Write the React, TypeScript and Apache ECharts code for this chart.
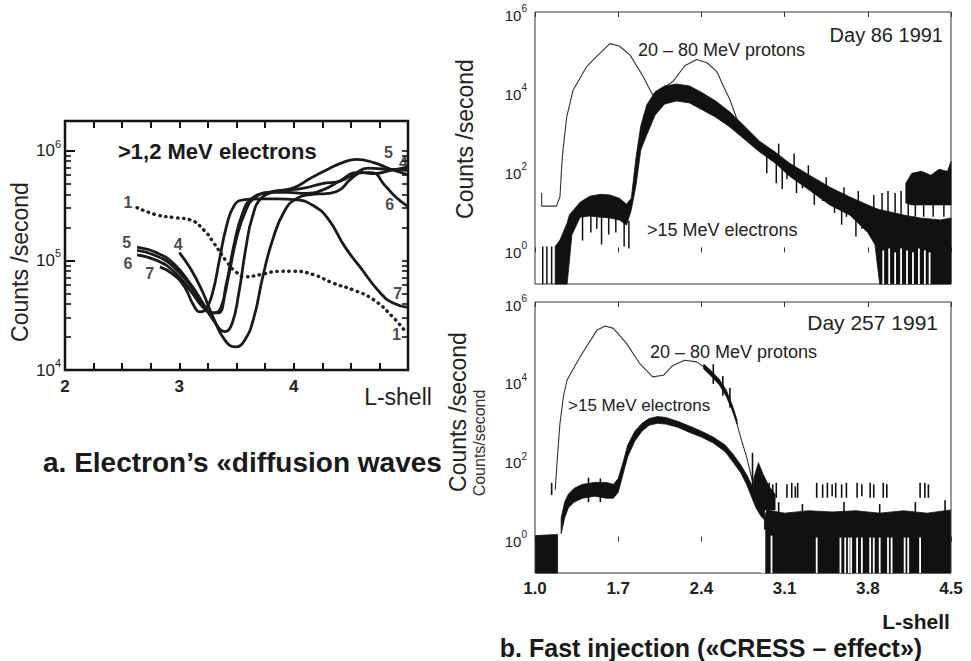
import React, { useEffect, useRef } from "react";
import * as echarts from "echarts";

const FF = '"Liberation Sans", Arial, Helvetica, sans-serif';

// ---------- Panel a: >1,2 MeV electrons (L-shell vs log10 counts/s) ----------
const curve1 = [[2.63,5.48],[2.80,5.415],[2.95,5.39],[3.09,5.37],[3.22,5.27],[3.30,5.16],[3.42,4.98],[3.50,4.89],[3.58,4.85],[3.71,4.87],[3.88,4.90],[4.00,4.90],[4.17,4.87],[4.35,4.79],[4.52,4.73],[4.70,4.64],[4.87,4.48],[4.97,4.36]];
const curve3 = [[2.63,5.09],[2.8,5.04],[2.95,4.94],[3.1,4.76],[3.2,4.6],[3.28,4.52],[3.34,4.52],[3.41,4.78],[3.48,5.15],[3.55,5.42],[3.63,5.56],[3.78,5.62],[3.95,5.64],[4.1,5.66],[4.25,5.7],[4.4,5.72],[4.52,5.78],[4.65,5.84],[4.8,5.83],[5.0,5.82]];
const curve4 = [[3.0,5.07],[3.1,4.92],[3.2,4.72],[3.3,4.47],[3.4,4.27],[3.49,4.21],[3.57,4.27],[3.65,4.47],[3.73,4.85],[3.82,5.2],[3.92,5.45],[4.02,5.56],[4.15,5.6],[4.3,5.61],[4.4,5.64],[4.5,5.74],[4.6,5.8],[4.7,5.79],[4.85,5.82],[5.0,5.85]];
const curve5 = [[2.63,5.12],[2.8,5.07],[2.95,4.97],[3.1,4.78],[3.2,4.62],[3.3,4.45],[3.4,4.35],[3.46,4.42],[3.52,4.7],[3.58,5.1],[3.64,5.4],[3.72,5.57],[3.85,5.63],[4.0,5.66],[4.15,5.75],[4.3,5.83],[4.45,5.9],[4.55,5.92],[4.7,5.89],[4.85,5.83],[5.0,5.78]];
const curve6 = [[2.63,5.05],[2.8,5.0],[2.95,4.9],[3.1,4.72],[3.2,4.58],[3.3,4.52],[3.36,4.56],[3.43,4.85],[3.5,5.2],[3.58,5.45],[3.66,5.57],[3.8,5.62],[3.95,5.62],[4.1,5.61],[4.25,5.64],[4.4,5.72],[4.55,5.8],[4.68,5.8],[4.8,5.68],[4.9,5.57],[5.0,5.49]];
const curve7 = [[2.83,4.94],[2.95,4.87],[3.05,4.75],[3.12,4.6],[3.18,4.53],[3.23,4.55],[3.29,4.7],[3.35,5.0],[3.41,5.3],[3.48,5.5],[3.56,5.55],[3.7,5.56],[3.85,5.56],[4.03,5.55],[4.17,5.5],[4.3,5.38],[4.45,5.12],[4.58,4.94],[4.76,4.70],[4.87,4.61],[5.0,4.57]];
const curveLabels = [
  { name: "1", value: [2.55, 5.53] }, { name: "5", value: [2.54, 5.16] },
  { name: "6", value: [2.55, 4.97] }, { name: "7", value: [2.74, 4.88] },
  { name: "4", value: [2.99, 5.14] }, { name: "5", value: [4.83, 5.98] },
  { name: "4", value: [4.96, 5.89] }, { name: "6", value: [4.84, 5.51] },
  { name: "7", value: [4.91, 4.70] }, { name: "1", value: [4.90, 4.32] },
];
const aXLabels = [2, 3, 4];
const aYLabels = [4, 5, 6];

// ---------- Panel b top: Day 86 1991 ----------
const protonTop = [[1.056,1.51],[1.056,1.17],[1.18,1.17],[1.21,1.4],[1.225,2.2],[1.235,2.58],[1.267,3.43],[1.32,4.10],[1.435,4.70],[1.53,4.99],[1.63,5.28],[1.71,5.22],[1.80,4.99],[1.91,4.45],[1.99,3.98],[2.08,4.16],[2.16,4.32],[2.26,4.72],[2.36,4.88],[2.45,4.79],[2.53,4.57],[2.58,4.24],[2.64,3.86],[2.70,3.36],[2.78,2.98],[2.87,2.73],[3.0,2.5]];
const elecTopMain = [[1.17,-0.8,0.15],[1.21,-0.8,0.31],[1.27,-0.8,0.74],[1.29,-0.2,0.95],[1.31,0.44,1.02],[1.38,0.89,1.27],[1.46,0.92,1.42],[1.55,0.89,1.47],[1.63,0.87,1.45],[1.71,0.82,1.37],[1.77,0.69,1.22],[1.81,1.07,1.37],[1.85,1.70,2.4],[1.89,2.59,3.2],[1.94,2.97,3.73],[2.01,3.47,4.06],[2.09,3.75,4.21],[2.19,3.83,4.26],[2.30,3.78,4.21],[2.41,3.60,4.03],[2.52,3.42,3.83],[2.64,3.17,3.55],[2.77,2.84,3.17],[2.89,2.54,2.81],[3.02,2.26,2.54],[3.14,1.93,2.26],[3.31,1.57,1.95],[3.48,1.20,1.65],[3.65,0.94,1.40],[3.80,0.5,1.2],[3.86,0.2,1.12],[3.90,-0.8,1.08],[3.99,-0.8,1.02],[4.11,-0.8,0.94],[4.24,-0.8,0.87],[4.41,-0.8,0.82],[4.50,-0.8,0.87]];
const elecTopBlock = [[4.12,1.25,1.75],[4.17,1.2,2.0],[4.25,1.2,2.05],[4.33,1.2,1.95],[4.4,1.2,2.1],[4.47,1.2,2.05],[4.5,1.2,2.3]];
const spikesTop = [[1.065,-0.8,0.15],[1.10,-0.8,0.15],[1.14,-0.8,0.15],[1.40,0.3,1.0],[1.47,0.5,1.0],[1.52,0.6,1.0],[1.56,0.2,0.9],[1.62,0.45,0.9],[1.68,0.5,0.9],[1.75,0.15,0.8],[1.79,0.1,0.8],[2.95,2.0,2.5],[3.03,1.75,2.3],[3.08,1.6,2.2],[3.12,1.85,2.2],[3.2,1.5,2.0],[3.25,1.62,2.0],[3.35,1.2,1.7],[3.42,1.3,1.6],[3.52,1.0,1.4],[3.58,0.7,1.2],[3.62,0.9,1.3],[3.7,0.4,1.0],[3.75,0.6,1.0],[3.05,2.4,2.75],[3.18,2.1,2.5],[3.3,1.85,2.2],[3.45,1.55,1.9],[3.6,1.3,1.65],[3.72,1.15,1.55],[3.85,1.1,1.45],[3.92,1.0,1.5],[3.97,1.0,1.55],[4.03,1.0,1.5],[4.08,0.9,1.55],[4.14,0.9,1.5],[4.2,0.9,1.3],[4.27,0.9,1.25],[4.35,0.9,1.3],[4.44,0.9,1.35]];
const gapsTop = [[3.93,-0.8,0.05],[3.98,-0.8,0.1],[4.03,-0.8,0.0],[4.08,-0.8,0.1],[4.13,-0.8,0.05],[4.18,-0.8,0.0],[4.23,-0.8,0.1],[4.28,-0.8,0.05],[4.32,-0.8,0.0]];

// ---------- Panel b bottom: Day 257 1991 ----------
const protonBot = [[1.17,1.31],[1.19,2.2],[1.21,3.0],[1.24,3.7],[1.27,4.10],[1.38,4.69],[1.52,5.36],[1.59,5.47],[1.66,5.41],[1.77,5.03],[1.88,4.52],[1.99,4.18],[2.08,4.22],[2.16,4.47],[2.26,4.60],[2.36,4.56],[2.44,4.39],[2.53,4.10],[2.61,3.76],[2.67,3.34],[2.72,2.75],[2.78,2.15],[2.82,1.65],[2.85,1.31],[2.88,1.0]];
const elecBotBlock = [[1.005,-0.8,0.15],[1.19,-0.8,0.18]];
const elecBotMain = [[1.22,0.2,0.6],[1.25,0.6,1.0],[1.28,0.85,1.2],[1.33,1.0,1.35],[1.40,1.1,1.45],[1.50,1.15,1.5],[1.60,1.1,1.5],[1.66,1.1,1.45],[1.70,1.25,1.6],[1.74,1.7,2.0],[1.78,2.15,2.45],[1.84,2.55,2.8],[1.90,2.8,3.0],[1.96,2.95,3.12],[2.03,3.0,3.17],[2.10,2.98,3.15],[2.20,2.9,3.05],[2.30,2.77,2.93],[2.40,2.65,2.8],[2.50,2.5,2.65],[2.60,2.28,2.45],[2.67,2.0,2.2],[2.73,1.75,1.95],[2.78,1.45,1.7],[2.82,1.15,1.45],[2.86,0.85,1.2],[2.90,0.65,1.0],[2.93,0.55,0.85]];
const protonBotNoise = [[2.42,4.38,4.5],[2.48,4.2,4.34],[2.55,3.98,4.12],[2.61,3.68,3.84],[2.66,3.32,3.46],[2.70,2.98,3.08]];
const elecBotMid = [[2.84,1.0,1.6],[2.88,0.9,2.0],[2.92,0.8,1.7],[2.97,0.8,1.4],[3.02,0.8,1.2]];
const elecBotFloor = [[2.93,-0.8,0.6],[2.95,-0.8,0.8],[3.1,-0.8,0.72],[3.3,-0.8,0.78],[3.5,-0.8,0.75],[3.7,-0.8,0.78],[3.9,-0.8,0.72],[4.1,-0.8,0.78],[4.3,-0.8,0.72],[4.495,-0.8,0.8]];
const spikesBot = [[1.14,1.18,1.49],[2.83,1.2,2.25],[2.97,1.11,1.49],[3.0,1.11,1.45],[3.03,1.11,1.49],[3.12,1.11,1.45],[3.16,1.11,1.49],[3.19,1.11,1.4],[3.21,1.11,1.49],[3.37,1.11,1.49],[3.42,1.11,1.45],[3.46,1.11,1.49],[3.5,1.15,1.45],[3.53,1.11,1.49],[3.58,1.11,1.45],[3.62,1.11,1.49],[3.71,1.11,1.49],[3.75,1.15,1.45],[3.82,1.11,1.49],[3.85,1.11,1.45],[3.93,1.11,1.49],[3.96,1.11,1.45],[4.24,1.11,1.49],[4.28,1.11,1.49],[4.31,1.11,1.45],[3.05,0.7,1.0],[3.25,0.7,0.95],[3.6,0.7,1.0],[3.9,0.7,0.95],[4.2,0.7,1.0],[4.45,0.7,1.05],[1.45,1.0,1.62],[1.55,1.0,1.6],[2.5,4.0,4.5],[2.58,3.7,4.2],[2.64,3.4,3.9]];
const gapsBot = [[2.91,-0.8,0.4],[2.93,-0.8,0.3],[2.99,-0.8,0.15],[3.37,-0.8,0.1],[3.57,-0.8,0.1],[3.61,-0.8,0.1],[3.64,-0.8,0.1],[3.66,-0.8,0.1],[3.71,-0.8,0.1],[3.75,-0.8,0.1],[3.82,-0.8,0.1],[3.85,-0.8,0.1],[3.90,-0.8,0.1],[3.97,-0.8,0.1],[4.0,-0.8,0.1],[4.11,-0.8,0.1],[4.14,-0.8,0.1],[4.24,-0.8,0.1]];
const bXTicks = [1.0, 1.7, 2.4, 3.1, 3.8, 4.5];
const bYLabels = [0, 2, 4, 6];

const minorTicks = (decades: number[]) => {
  const out: number[] = [];
  decades.forEach((n) => { for (let k = 2; k <= 9; k++) out.push(Math.log10(k) + n); });
  return out;
};

function bandSeries(bands: number[][][], xi: number, yi: number, z: number, color = "#111") {
  return {
    type: "custom", xAxisIndex: xi, yAxisIndex: yi, silent: true, z,
    data: bands.map((b) => [b[0][0], b[0][2]]),
    encode: { x: 0, y: 1 },
    renderItem: (params: any, api: any) => {
      const band = bands[params.dataIndex];
      const up = band.map((p) => api.coord([p[0], p[2]]));
      const lo = band.slice().reverse().map((p) => api.coord([p[0], p[1]]));
      return { type: "polygon", shape: { points: up.concat(lo) }, style: { fill: color, stroke: color, lineWidth: 0.8 } };
    },
  };
}
function spikeSeries(sp: number[][], xi: number, yi: number, z: number, color: string, w: number) {
  return {
    type: "custom", xAxisIndex: xi, yAxisIndex: yi, silent: true, z,
    data: sp, encode: { x: 0, y: [1, 2] },
    renderItem: (params: any, api: any) => {
      const a = api.coord([api.value(0), api.value(1)]);
      const b = api.coord([api.value(0), api.value(2)]);
      return { type: "line", shape: { x1: a[0], y1: a[1], x2: b[0], y2: b[1] }, style: { stroke: color, lineWidth: w } };
    },
  };
}

export default function App() {
  const ref = useRef<HTMLDivElement>(null);
  useEffect(() => {
    const chart = echarts.init(ref.current!, null, { renderer: "svg" });
    const supRich = (size: number) => ({
      b: { fontSize: size, fontFamily: FF, color: "#222", lineHeight: size + 8 },
      s: { fontSize: Math.round(size * 0.65), fontFamily: FF, color: "#222", verticalAlign: "top", lineHeight: 12 },
    });
    const aLine = (data: number[][], dotted = false) => ({
      type: "line", xAxisIndex: 0, yAxisIndex: 0, data, smooth: 0.5, symbol: "none", silent: true, z: 3,
      lineStyle: dotted ? { color: "#222", width: 3.4, type: [0.5, 5.5], cap: "round" } : { color: "#1a1a1a", width: 2.8 },
    });
    const rightX = (grid: number, pos: string, labels: boolean) => ({
      type: "value", gridIndex: grid, position: pos, min: 1.0, max: 4.5,
      axisLine: { show: false }, splitLine: { show: false },
      axisTick: { inside: true, length: 5, customValues: bXTicks, lineStyle: { color: "#333", width: 1 } },
      axisLabel: labels
        ? { show: true, customValues: bXTicks, formatter: (v: number) => v.toFixed(1), fontSize: 17, fontWeight: "bold", fontFamily: FF, color: "#222", margin: 7 }
        : { show: false },
    });
    const rightY = (grid: number) => ({
      type: "value", gridIndex: grid, min: -0.8, max: 6.08,
      axisLine: { show: false }, splitLine: { show: false }, axisTick: { show: false },
      axisLabel: { customValues: bYLabels, formatter: (v: number) => `{b|10}{s|${v}}`, rich: supRich(15), margin: 8 },
    });

    chart.setOption({
      animation: false,
      backgroundColor: "#fff",
      grid: [
        { left: 65, top: 121, width: 343, height: 249, show: true, borderColor: "#111", borderWidth: 2.5, backgroundColor: "transparent", outerBoundsMode: "none" },
        { left: 535, top: 12, width: 416, height: 272, show: true, borderColor: "#333", borderWidth: 1, backgroundColor: "transparent", outerBoundsMode: "none" },
        { left: 535, top: 302, width: 416, height: 271, show: true, borderColor: "#333", borderWidth: 1, backgroundColor: "transparent", outerBoundsMode: "none" },
      ],
      xAxis: [
        { type: "value", gridIndex: 0, position: "bottom", min: 2, max: 5, interval: 0.25, axisLine: { show: false }, splitLine: { show: false },
          axisTick: { inside: true, length: 7, lineStyle: { color: "#111", width: 2 } },
          axisLabel: { customValues: aXLabels, fontSize: 17, fontWeight: "bold", fontFamily: FF, color: "#222", margin: 8 } },
        { type: "value", gridIndex: 0, position: "top", min: 2, max: 5, interval: 0.25, axisLine: { show: false }, splitLine: { show: false },
          axisTick: { inside: true, length: 7, lineStyle: { color: "#111", width: 2 } }, axisLabel: { show: false } },
        rightX(1, "bottom", false),
        rightX(1, "top", false),
        rightX(2, "bottom", true),
        rightX(2, "top", false),
      ],
      yAxis: [
        { type: "value", gridIndex: 0, position: "left", min: 4, max: 6.27, axisLine: { show: false }, splitLine: { show: false },
          axisTick: { inside: true, length: 10, customValues: aYLabels, lineStyle: { color: "#111", width: 2 } },
          axisLabel: { customValues: aYLabels, formatter: (v: number) => `{b|10}{s|${v}}`, rich: supRich(17), margin: 4 } },
        { type: "value", gridIndex: 0, position: "left", min: 4, max: 6.27, axisLine: { show: false }, splitLine: { show: false },
          axisTick: { inside: true, length: 6, customValues: minorTicks([4, 5]), lineStyle: { color: "#111", width: 1.6 } },
          axisLabel: { show: false } },
        { type: "value", gridIndex: 0, position: "right", min: 4, max: 6.27, axisLine: { show: false }, splitLine: { show: false },
          axisTick: { inside: true, length: 6, customValues: [4, 5, 6].concat(minorTicks([4, 5])), lineStyle: { color: "#111", width: 1.6 } },
          axisLabel: { show: false } },
        rightY(1),
        rightY(2),
      ],
      series: [
        aLine(curve1, true), aLine(curve3), aLine(curve4), aLine(curve5), aLine(curve6), aLine(curve7),
        { type: "scatter", xAxisIndex: 0, yAxisIndex: 0, data: curveLabels, symbolSize: 1, silent: true, z: 5,
          itemStyle: { color: "rgba(0,0,0,0)" },
          label: { show: true, position: "inside", formatter: "{b}", fontSize: 16, fontWeight: "bold", fontFamily: FF, color: "#1a1a1a", lineHeight: 16 } },

        { type: "line", xAxisIndex: 2, yAxisIndex: 3, data: protonTop, symbol: "none", silent: true, z: 2,
          lineStyle: { color: "#333", width: 1.1 } },
        bandSeries([elecTopMain, elecTopBlock], 2, 3, 3),
        spikeSeries(spikesTop, 2, 3, 4, "#111", 1.5),
        spikeSeries(gapsTop, 2, 3, 5, "#fff", 1.8),

        { type: "line", xAxisIndex: 4, yAxisIndex: 4, data: protonBot, symbol: "none", silent: true, z: 2,
          lineStyle: { color: "#333", width: 1.1 } },
        bandSeries([elecBotBlock, elecBotMain, protonBotNoise, elecBotMid, elecBotFloor], 4, 4, 3),
        spikeSeries(spikesBot, 4, 4, 4, "#111", 1.6),
        spikeSeries(gapsBot, 4, 4, 5, "#fff", 1.8),
      ],
      graphic: [
        { type: "text", x: 118, y: 151, z: 20, style: { text: ">1,2 MeV electrons", font: `bold 22px ${FF}`, fill: "#1a1a1a", textAlign: "left", textVerticalAlign: "middle" } },
        { type: "text", x: 398, y: 397, z: 20, style: { text: "L-shell", font: `23px ${FF}`, fill: "#222", textAlign: "center", textVerticalAlign: "middle" } },
        { type: "text", x: 43, y: 462, z: 20, style: { text: "a. Electron’s «diffusion waves»", font: `bold 28px ${FF}`, fill: "#1a1a1a", textAlign: "left", textVerticalAlign: "middle" } },
        { type: "rect", z: 30, shape: { x: 442, y: 440, width: 30, height: 45 }, style: { fill: "#fff" } },
        { type: "text", x: 20, y: 262, rotation: Math.PI / 2, z: 40, style: { text: "Counts /second", font: `23px ${FF}`, fill: "#222", textAlign: "center", textVerticalAlign: "middle", backgroundColor: "#fff" } },
        { type: "text", x: 465, y: 139, rotation: Math.PI / 2, z: 40, style: { text: "Counts /second", font: `23px ${FF}`, fill: "#222", textAlign: "center", textVerticalAlign: "middle" } },
        { type: "text", x: 458, y: 412, rotation: Math.PI / 2, z: 40, style: { text: "Counts /second", font: `23px ${FF}`, fill: "#222", textAlign: "center", textVerticalAlign: "middle" } },
        { type: "text", x: 479, y: 443, rotation: Math.PI / 2, z: 40, style: { text: "Counts/second", font: `16px ${FF}`, fill: "#333", textAlign: "center", textVerticalAlign: "middle" } },
        { type: "text", x: 943, y: 35, z: 20, style: { text: "Day 86 1991", font: `20px ${FF}`, fill: "#222", textAlign: "right", textVerticalAlign: "middle" } },
        { type: "text", x: 638, y: 50, z: 20, style: { text: "20 – 80 MeV protons", font: `18px ${FF}`, fill: "#222", textAlign: "left", textVerticalAlign: "middle" } },
        { type: "text", x: 647, y: 230, z: 20, style: { text: ">15 MeV electrons", font: `18px ${FF}`, fill: "#222", textAlign: "left", textVerticalAlign: "middle" } },
        { type: "text", x: 938, y: 322, z: 20, style: { text: "Day 257 1991", font: `21px ${FF}`, fill: "#222", textAlign: "right", textVerticalAlign: "middle" } },
        { type: "text", x: 650, y: 352, z: 20, style: { text: "20 – 80 MeV protons", font: `18px ${FF}`, fill: "#222", textAlign: "left", textVerticalAlign: "middle" } },
        { type: "text", x: 568, y: 405, z: 20, style: { text: ">15 MeV electrons", font: `17px ${FF}`, fill: "#222", textAlign: "left", textVerticalAlign: "middle" } },
        { type: "text", x: 916, y: 621, z: 20, style: { text: "L-shell", font: `bold 21px ${FF}`, fill: "#1a1a1a", textAlign: "center", textVerticalAlign: "middle" } },
        { type: "text", x: 711, y: 648, z: 20, style: { text: "b. Fast injection («CRESS – effect»)", font: `bold 25px ${FF}`, fill: "#1a1a1a", textAlign: "center", textVerticalAlign: "middle" } },
      ],
    });
    return () => chart.dispose();
  }, []);
  return <div ref={ref} style={{ position: "fixed", left: 0, top: 0, width: 971, height: 661, background: "#fff" }} />;
}
